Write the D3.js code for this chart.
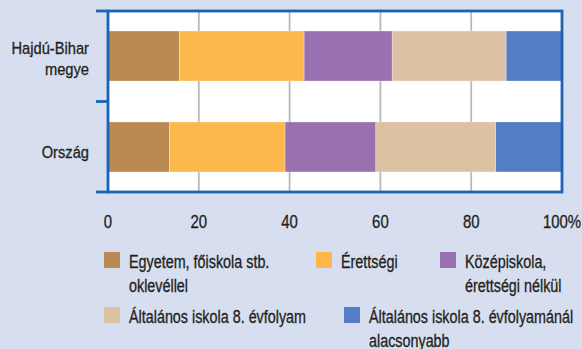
<!DOCTYPE html>
<html>
<head>
<meta charset="utf-8">
<script src="https://cdn.jsdelivr.net/npm/d3@7"></script>
<style>
  html, body { margin: 0; padding: 0; background: #d6deef; }
  svg { display: block; }
  text { font-family: "Liberation Sans", Arial, sans-serif; fill: #231f20; stroke: #231f20; stroke-width: 0.3; }
</style>
</head>
<body>
<svg id="chart" width="582" height="349"></svg>
<script>
// Educational attainment distribution (%)
const categories = ["Hajdú-Bihar megye", "Ország"];
const categoryLines = [["Hajdú-Bihar", "megye"], ["Ország"]];
const seriesNames = [
  "Egyetem, főiskola stb. oklevéllel",
  "Érettségi",
  "Középiskola, érettségi nélkül",
  "Általános iskola 8. évfolyam",
  "Általános iskola 8. évfolyamánál alacsonyabb"
];
const seriesLines = [
  ["Egyetem, főiskola stb.", "oklevéllel"],
  ["Érettségi"],
  ["Középiskola,", "érettségi nélkül"],
  ["Általános iskola 8. évfolyam"],
  ["Általános iskola 8. évfolyamánál", "alacsonyabb"]
];
const hajduBihar = [15.7, 27.5, 19.4, 25.1, 12.3];
const orszag     = [13.5, 25.5, 20.0, 26.4, 14.6];
const tickValues = [0, 20, 40, 60, 80, 100];
const tickLabels = ["0", "20", "40", "60", "80", "100%"];
const colors = ["#bb8952", "#fbb84d", "#9a71b0", "#dcc2a2", "#537ec3"];

const svg = d3.select("#chart");
const W = 582, H = 349;
const plot = { left: 108, right: 562, top: 11, bottom: 192 };
const frameColor = "#1a63b5";

// condensed text: regular face squeezed horizontally
function condensedText(sel, { x, y, lines, size, squeeze, anchor = "start", lineHeight = 0 }) {
  const t = sel.append("text")
    .attr("transform", `translate(${x},${y}) scale(${squeeze},1)`)
    .attr("font-size", size)
    .attr("text-anchor", anchor);
  t.selectAll("tspan")
    .data(lines)
    .join("tspan")
    .attr("x", 0)
    .attr("y", (l, k) => k * lineHeight)
    .text(l => l);
  return t;
}

svg.append("rect").attr("width", W).attr("height", H).attr("fill", "#d6deef");

const x = d3.scaleLinear().domain([0, 100]).range([plot.left, plot.right]);
const y = d3.scaleBand().domain(categories).range([plot.top, plot.bottom])
  .paddingInner(0.45).paddingOuter(0.22);

// table for stacking
const rows = categories.map((c, i) => {
  const vals = [hajduBihar, orszag][i];
  const r = { category: c };
  seriesNames.forEach((s, j) => r[s] = vals[j]);
  return r;
});
const stacked = d3.stack().keys(seriesNames)(rows);

// plot background
svg.append("rect")
  .attr("x", plot.left).attr("y", plot.top)
  .attr("width", plot.right - plot.left).attr("height", plot.bottom - plot.top)
  .attr("fill", "#ffffff");

// vertical grid
svg.append("g")
  .selectAll("line")
  .data(tickValues.filter(v => v > 0 && v < 100))
  .join("line")
  .attr("x1", d => x(d)).attr("x2", d => x(d))
  .attr("y1", plot.top).attr("y2", plot.bottom)
  .attr("stroke", "#b8b8b8").attr("stroke-width", 1.8);

// bars
svg.append("g")
  .selectAll("g")
  .data(stacked)
  .join("g")
  .attr("fill", (d, i) => colors[i])
  .selectAll("rect")
  .data(d => d)
  .join("rect")
  .attr("x", d => x(d[0]))
  .attr("y", d => y(d.data.category))
  .attr("width", d => x(d[1]) - x(d[0]))
  .attr("height", y.bandwidth())
  .attr("stroke", "#ffffff").attr("stroke-opacity", 0.5).attr("stroke-width", 0.6);

// frame
const frame = svg.append("g").attr("stroke", frameColor).attr("stroke-width", 2.8).attr("fill", "none");
frame.append("rect")
  .attr("x", plot.left).attr("y", plot.top)
  .attr("width", plot.right - plot.left).attr("height", plot.bottom - plot.top);

// category axis ticks (band boundaries)
const boundaries = [plot.top, ...categories.slice(1).map(c => y(c) - y.step() * y.paddingInner() / 2), plot.bottom];
frame.selectAll("line.tick")
  .data(boundaries)
  .join("line")
  .attr("class", "tick")
  .attr("x1", plot.left - 12).attr("x2", plot.left)
  .attr("y1", d => d).attr("y2", d => d);

// category labels
const catG = svg.append("g");
categories.forEach((c, i) => {
  const lines = categoryLines[i];
  const cy = y(c) + y.bandwidth() / 2;
  condensedText(catG, {
    x: 89, y: lines.length === 1 ? cy + 11 : cy - 2,
    lines, size: 16.5, squeeze: 0.89, anchor: "end", lineHeight: 21
  });
});

// value axis labels
const tickG = svg.append("g");
tickValues.forEach((v, i) => {
  condensedText(tickG, { x: x(v), y: 228, lines: [tickLabels[i]], size: 18, squeeze: 0.83, anchor: "middle" });
});

// legend
const legendPos = [
  { sx: 104, sy: 252 },
  { sx: 316, sy: 252 },
  { sx: 440, sy: 252 },
  { sx: 104, sy: 307 },
  { sx: 344, sy: 307 }
];
const legend = svg.append("g");
seriesNames.forEach((s, i) => {
  const p = legendPos[i];
  legend.append("rect")
    .attr("x", p.sx).attr("y", p.sy)
    .attr("width", 16).attr("height", 16)
    .attr("fill", colors[i]);
  condensedText(legend, {
    x: p.sx + 25, y: p.sy + 16, lines: seriesLines[i],
    size: 17.5, squeeze: 0.82, lineHeight: 24
  });
});
</script>
</body>
</html>
